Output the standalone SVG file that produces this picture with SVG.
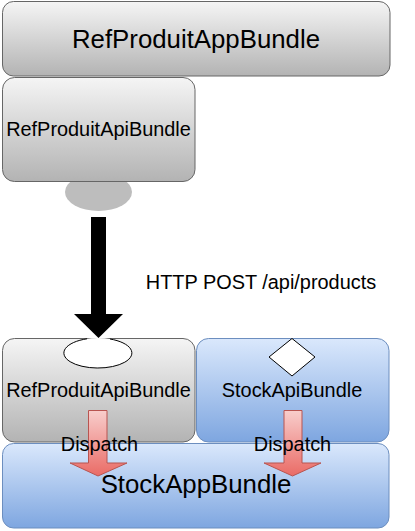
<svg xmlns="http://www.w3.org/2000/svg" width="415" height="531" viewBox="0 0 415 531">
<defs>
<linearGradient id="gGrey" x1="0" y1="0" x2="0" y2="1"><stop offset="0" stop-color="#f5f5f5"/><stop offset="1" stop-color="#b3b3b3"/></linearGradient>
<linearGradient id="gBlue" x1="0" y1="0" x2="0" y2="1"><stop offset="0" stop-color="#dae8fc"/><stop offset="1" stop-color="#7ea6e0"/></linearGradient>
<linearGradient id="gRed" x1="0" y1="0" x2="0" y2="1"><stop offset="0" stop-color="#f8cecc"/><stop offset="1" stop-color="#ea6b66"/></linearGradient>
</defs>
<style>
.grey{fill:url(#gGrey);stroke:#666666;stroke-width:1}
.blue{fill:url(#gBlue);stroke:#6c8ebf;stroke-width:1}
.t{font-family:"Liberation Sans",Arial,sans-serif;fill:#000;text-anchor:middle}
.big{font-size:25.8px}
.mid{font-size:19.9px}
.disp{fill:url(#gRed);stroke:#b85450;stroke-width:1}
</style>
<g id="RefProduitAppBundle">
<rect class="grey" x="2.5" y="1.5" width="387.5" height="74.5" rx="11" ry="11"/>
<text class="t big" x="196" y="48">RefProduitAppBundle</text>
</g>
<g id="RefProduitApiBundle-top">
<ellipse cx="98.5" cy="192" rx="33.5" ry="19" fill="#bdbdbd"/>
<rect class="grey" x="2.5" y="77.5" width="192.5" height="104" rx="12" ry="12"/>
<text class="t mid" x="98.5" y="136">RefProduitApiBundle</text>
</g>
<g id="StockAppBundle">
<rect class="blue" x="2.5" y="443.5" width="386.5" height="84.5" rx="11" ry="11"/>
<text class="t big" x="196" y="493">StockAppBundle</text>
</g>
<g id="RefProduitApiBundle-bottom">
<rect class="grey" x="2.5" y="338.5" width="192.5" height="103.5" rx="12" ry="12"/>
<ellipse cx="98" cy="353" rx="34" ry="15" fill="#ffffff"/>
<path d="M110 339 A34 15 0 1 1 87 338.8" fill="none" stroke="#000" stroke-width="1"/>
<text class="t mid" x="98.5" y="397">RefProduitApiBundle</text>
</g>
<g id="StockApiBundle">
<rect class="blue" x="196.5" y="338.5" width="192.5" height="103.5" rx="12" ry="12"/>
<polygon points="292,338.5 315,357 292,376 269,357" fill="#ffffff" stroke="#000" stroke-width="1"/>
<text class="t mid" x="292" y="397">StockApiBundle</text>
</g>
<g id="connectors">
<polygon points="91,217 106,217 106,314 123,314 98.5,338 74,314 91,314" fill="#000"/>
<text class="t mid" x="261" y="289">HTTP POST /api/products</text>
<polygon class="disp" points="88.5,410.5 107,410.5 107,463 127,463 98,476 70,463 88.5,463"/>
<polygon class="disp" points="284,410.5 302,410.5 302,463 321,463 292.5,476 264,463 284,463"/>
<text class="t mid" x="99.5" y="451">Dispatch</text>
<text class="t mid" x="292.5" y="451">Dispatch</text>
</g>
</svg>
